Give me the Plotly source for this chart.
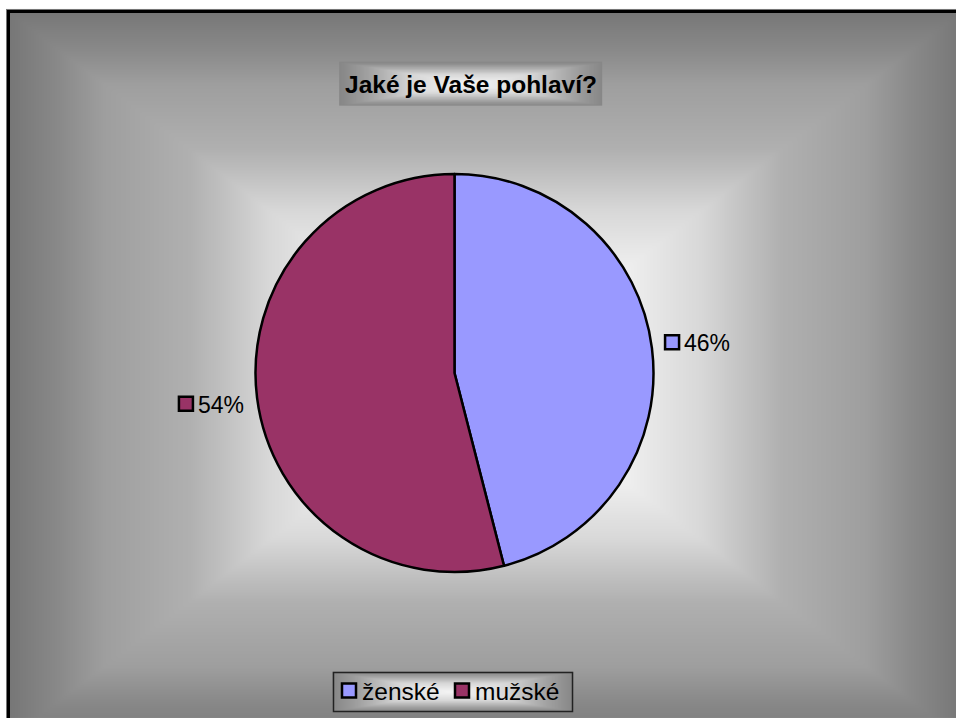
import numpy as np
import plotly.graph_objects as go

# Survey answers: "Jaké je Vaše pohlaví?"
labels = ["ženské", "mužské"]
values = [46, 54]
colors = ["#9999FF", "#993366"]
title_text = "Jaké je Vaše pohlaví?"

W, H = 956, 718
FONT = "Arial, 'Liberation Sans', sans-serif"

# pie geometry (pixels)
CX, CY, R = 454.5, 373.0, 199.0
LABEL_R = 245.0


def rect_gradient(x0, x1, y0, y1, stops, nx=240, ny=180):
    """Rectangular 'from centre' fill: light in the middle, darker to the edges."""
    xs = np.linspace(x0, x1, nx)
    ys = np.linspace(y0, y1, ny)
    cx, cy = (x0 + x1) / 2, (y0 + y1) / 2
    hx, hy = (x1 - x0) / 2, (y1 - y0) / 2
    X, Y = np.meshgrid(xs, ys)
    t = np.maximum(np.abs(X - cx) / hx, np.abs(Y - cy) / hy)
    return go.Heatmap(x=xs, y=ys, z=t, zmin=0, zmax=1, colorscale=stops,
                      showscale=False, zsmooth="best", hoverinfo="skip")


bg_stops = [[0.0, "rgb(250,250,250)"], [0.3, "rgb(238,238,238)"],
            [0.45, "rgb(216,216,216)"], [0.62, "rgb(176,176,176)"],
            [0.8, "rgb(158,158,158)"], [0.9, "rgb(136,136,136)"],
            [1.0, "rgb(118,118,118)"]]
box_stops = [[0.0, "rgb(246,246,246)"], [0.45, "rgb(215,215,215)"],
             [0.8, "rgb(160,160,160)"], [1.0, "rgb(135,135,135)"]]

fig = go.Figure()

# chart-area background, title box and legend box fills
fig.add_trace(rect_gradient(8, 962, 11, 739, bg_stops))
fig.add_trace(rect_gradient(340, 601, 62, 105, box_stops, nx=160, ny=60))
fig.add_trace(rect_gradient(333, 572, 672, 711, box_stops, nx=160, ny=60))

# the pie itself
fig.add_trace(go.Pie(
    labels=labels, values=values, sort=False, direction="clockwise",
    rotation=0, marker=dict(colors=colors, line=dict(color="black", width=2.5)),
    textinfo="none", hoverinfo="label+percent", showlegend=False,
    domain=dict(x=[(CX - R) / W, (CX + R) / W],
                y=[1 - (CY + R) / H, 1 - (CY - R) / H]),
))

shapes = []
annotations = []

# percentage labels with colour keys, placed along each slice's mid-angle
total = float(sum(values))
cum = 0.0
for lab, val, col in zip(labels, values, colors):
    mid = (cum + val / 2) / total * 2 * np.pi
    cum += val
    gx = CX + LABEL_R * np.sin(mid)
    gy = CY - LABEL_R * np.cos(mid)
    left = gx - 33.5
    shapes.append(dict(type="rect", xref="x", yref="y",
                       x0=left + 1, x1=left + 15, y0=gy - 7, y1=gy + 7,
                       fillcolor=col, line=dict(color="black", width=2.5)))
    annotations.append(dict(x=left + 18, y=gy + 1, xref="x", yref="y",
                            text=f"{round(val / total * 100)}%", showarrow=False,
                            xanchor="left", yanchor="middle",
                            font=dict(family=FONT, size=23, color="black")))

# legend entries
legend_x = [342, 455]
for lab, col, lx in zip(labels, colors, legend_x):
    shapes.append(dict(type="rect", xref="x", yref="y",
                       x0=lx, x1=lx + 14, y0=683.5, y1=697.5,
                       fillcolor=col, line=dict(color="black", width=2.5)))
    annotations.append(dict(x=lx + 18, y=691.5, xref="x", yref="y", text=lab,
                            showarrow=False, xanchor="left", yanchor="middle",
                            font=dict(family=FONT, size=24.5, color="black")))

# legend frame
shapes.append(dict(type="rect", xref="x", yref="y", x0=333.5, x1=572.5,
                   y0=672.5, y1=711.5, line=dict(color="#222222", width=1.5)))

# chart border
shapes.append(dict(type="rect", xref="x", yref="y", x0=8.5, x1=1000,
                   y0=11.5, y1=1000, line=dict(color="black", width=3)))

# title
annotations.append(dict(x=471, y=84, xref="x", yref="y", text=f"<b>{title_text}</b>",
                        showarrow=False, xanchor="center", yanchor="middle",
                        font=dict(family=FONT, size=24.5, color="black")))

fig.update_layout(
    width=W, height=H, margin=dict(l=0, r=0, t=0, b=0),
    paper_bgcolor="white", plot_bgcolor="white",
    xaxis=dict(range=[0, W], visible=False, fixedrange=True, domain=[0, 1]),
    yaxis=dict(range=[H, 0], visible=False, fixedrange=True, domain=[0, 1]),
    shapes=shapes, annotations=annotations, showlegend=False,
)

fig.write_html("out.html")
